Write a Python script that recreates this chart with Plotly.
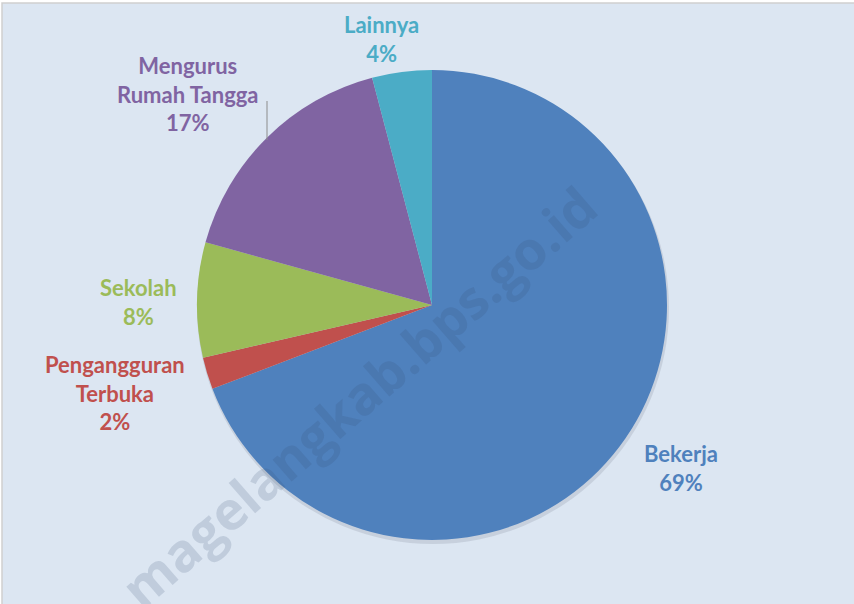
import plotly.graph_objects as go

# ---- data ----
categories = ["Bekerja", "Pengangguran Terbuka", "Sekolah", "Mengurus Rumah Tangga", "Lainnya"]
label_lines = ["Bekerja", "Pengangguran<br>Terbuka", "Sekolah", "Mengurus<br>Rumah Tangga", "Lainnya"]
values = [69.2, 2.2, 7.9, 16.6, 4.1]
colors = ["#4f81bd", "#c0504d", "#9bbb59", "#8064a2", "#4bacc6"]

# ---- layout helpers (pixel positions for label centres) ----
W, H = 854, 604
label_pos = [(681, 468), (115, 393), (138, 302), (188, 94), (381, 39)]

def px(x):
    return x / W

def py(y):
    return 1 - y / H

cx, cy, r = 432, 305, 235
dom_x = [px(cx - r), px(cx + r)]
dom_y = [py(cy + r), py(cy - r)]

fig = go.Figure()

# soft shadow behind pie
fig.add_trace(go.Pie(
    values=[1], marker=dict(colors=["rgba(70,80,100,0.14)"], line=dict(width=0)),
    domain=dict(x=[px(cx - r), px(cx + r + 2)], y=[py(cy + r + 4), py(cy - r + 2)]),
    textinfo="none", hoverinfo="skip", showlegend=False, sort=False,
))

fig.add_trace(go.Pie(
    labels=categories, values=values, sort=False, direction="clockwise", rotation=0,
    marker=dict(colors=colors, line=dict(width=0)),
    domain=dict(x=dom_x, y=dom_y),
    textinfo="none", showlegend=False,
))

total = sum(values)
annotations = []
for name, v, c, (lx, ly) in zip(label_lines, values, colors, label_pos):
    annotations.append(dict(
        x=px(lx), y=py(ly), xref="paper", yref="paper",
        text=f"<b>{name}<br>{round(v / total * 100)}%</b>",
        showarrow=False, xanchor="center", yanchor="middle", align="center",
        font=dict(family="Lato", size=22, color=c),
    ))

# watermark
annotations.append(dict(
    x=px(358), y=py(396), xref="paper", yref="paper",
    text="<b>magelangkab.bps.go.id</b>", showarrow=False, textangle=-41,
    xanchor="center", yanchor="middle",
    font=dict(family="Open Sans", size=53, color="rgba(55,75,110,0.17)"),
))

shapes = [
    dict(type="rect", xref="paper", yref="paper", x0=px(2), x1=1.02, y0=-0.02, y1=py(3),
         fillcolor="#dce6f2", line=dict(color="#cfcfcf", width=1.5), layer="below"),
    dict(type="line", xref="paper", yref="paper", x0=px(267), x1=px(267), y0=py(101), y1=py(140),
         line=dict(color="#8c8c8c", width=1)),
]

fig.update_layout(
    width=W, height=H, margin=dict(l=0, r=0, t=0, b=0),
    paper_bgcolor="white", plot_bgcolor="white",
    annotations=annotations, shapes=shapes,
)

fig.write_html("out.html", config={"displayModeBar": False},
               post_script="document.body.style.margin='0px';")
